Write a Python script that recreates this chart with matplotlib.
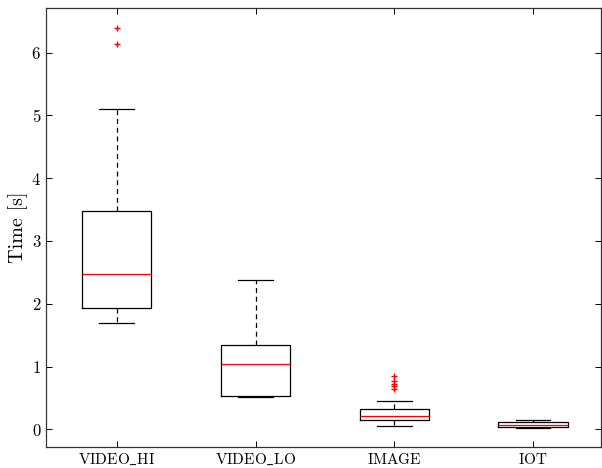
import matplotlib
matplotlib.use("Agg")
import matplotlib.pyplot as plt

plt.rcParams['font.family'] = 'serif'
plt.rcParams['font.serif'] = ['cmr10', 'DejaVu Serif']
plt.rcParams['mathtext.fontset'] = 'cm'
plt.rcParams['axes.formatter.use_mathtext'] = True

labels = ["VIDEO_HI", "VIDEO_LO", "IMAGE", "IOT"]
whislo = [1.70, 0.515, 0.05, 0.02]
q1 = [1.93, 0.53, 0.15, 0.03]
med = [2.48, 1.04, 0.22, 0.07]
q3 = [3.47, 1.35, 0.32, 0.11]
whishi = [5.10, 2.38, 0.45, 0.15]
fliers = [[6.13, 6.39], [], [0.65, 0.69, 0.73, 0.77, 0.85], []]

stats = []
for i in range(len(labels)):
    # cmr10 has no real underscore, so go through mathtext
    tick = r'$\mathrm{' + labels[i].replace('_', r'\_') + '}$'
    stats.append(dict(label=tick, whislo=whislo[i], q1=q1[i], med=med[i],
                      q3=q3[i], whishi=whishi[i], fliers=fliers[i]))

fig = plt.figure(figsize=(6.02, 4.68), dpi=100)
ax = fig.add_axes([0.0764, 0.045, 0.922, 0.938])

ax.bxp(stats, widths=0.5,
       boxprops=dict(color='black', linewidth=0.9),
       medianprops=dict(color='red', linewidth=0.9),
       whiskerprops=dict(color='black', linestyle=(0, (4, 3)), linewidth=0.9),
       capprops=dict(color='black', linewidth=0.9),
       flierprops=dict(marker='+', markeredgecolor='red', markersize=5, linestyle='none'),
       capwidths=0.25)

ax.set_xlim(0.49, 4.49)
ax.set_ylim(-0.28, 6.71)
ax.set_yticks([0, 1, 2, 3, 4, 5, 6])
ax.set_ylabel('Time [s]', fontsize=14.5, labelpad=2)
ax.tick_params(direction='in', top=True, right=True, length=4.5, width=0.7, labelsize=12)
ax.tick_params(axis='x', labelsize=11)
for s in ax.spines.values():
    s.set_color('#333333')
    s.set_linewidth(0.9)

fig.savefig('out.png', dpi=100)
